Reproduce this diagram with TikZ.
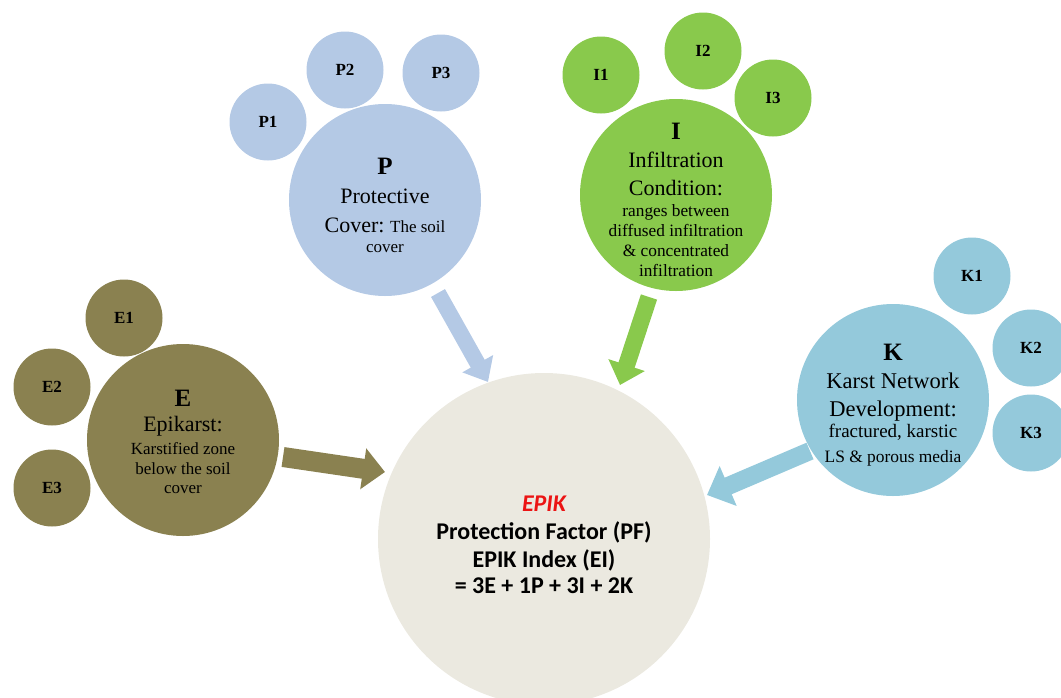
\documentclass[tikz,border=0pt]{standalone}
\usepackage{fontspec}
\setmainfont{Liberation Serif}
\newfontfamily\calib{Carlito}
\usetikzlibrary{arrows.meta}
\definecolor{pcol}{RGB}{180,201,229}
\definecolor{icol}{RGB}{137,201,76}
\definecolor{ecol}{RGB}{138,129,80}
\definecolor{kcol}{RGB}{148,201,219}
\definecolor{ccol}{RGB}{235,233,224}
\definecolor{epikred}{RGB}{235,20,20}
\begin{document}
\begin{tikzpicture}[x=1pt,y=-1pt,
  bubble/.style={circle, inner sep=0pt, minimum size=#1},
  small/.style={bubble=77pt, font=\fontsize{17}{20}\selectfont\bfseries},
  big/.style={bubble=192pt},
  btext/.style={inner sep=0pt, align=center},
  flow/.style={line width=#1},
]
\useasboundingbox (0,0) rectangle (1061,697);

% centre
\node[bubble=332pt, fill=ccol] (C) at (544,539) {};
\node[btext, font=\calib\bfseries\fontsize{24}{28}\selectfont] (Ct) at (544,545)
  {{\color{epikred}\itshape EPIK}\\ Protection Factor (PF)\\ EPIK Index (EI)\\[-2pt] = 3E + 1P + 3I + 2K};

% P group
\node[big, fill=pcol] (P) at (385,200) {};
\node[btext, font=\fontsize{17}{29}\selectfont] (Pt) at (385,205)
  {{\fontsize{25}{25}\selectfont\bfseries P}\\ {\fontsize{22}{22}\selectfont Protective}\\ {\fontsize{22}{22}\selectfont Cover:} The soil\\[-9pt] cover};
\node[small, fill=pcol] (P1) at (268,122) {P1};
\node[small, fill=pcol] (P2) at (345,70) {P2};
\node[small, fill=pcol] (P3) at (441,73) {P3};

% I group
\node[big, fill=icol] (I) at (676,195) {};
\node[btext, font=\fontsize{17.3}{28}\selectfont] (It) at (676,200)
  {{\fontsize{25}{25}\selectfont\bfseries I}\\ {\fontsize{22}{22}\selectfont Infiltration}\\ {\fontsize{22}{22}\selectfont Condition:}\\[-7pt] ranges between\\[-8pt] diffused infiltration\\[-8pt] \& concentrated\\[-8pt] infiltration};
\node[small, fill=icol] (I1) at (601,75) {I1};
\node[small, fill=icol] (I2) at (703,51) {I2};
\node[small, fill=icol] (I3) at (773,98) {I3};

% E group
\node[big, fill=ecol] (E) at (183,440) {};
\node[btext, font=\fontsize{17}{25}\selectfont] (Et) at (183,442)
  {{\fontsize{25}{25}\selectfont\bfseries E}\\ {\fontsize{22}{22}\selectfont Epikarst:}\\[-2pt] Karstified zone\\[-5pt] below the soil\\[-6pt] cover};
\node[small, fill=ecol] (E1) at (124,318) {E1};
\node[small, fill=ecol] (E2) at (52,387) {E2};
\node[small, fill=ecol] (E3) at (52,488) {E3};

% K group
\node[big, fill=kcol] (K) at (893,400) {};
\node[btext, font=\fontsize{17.4}{28}\selectfont] (Kt) at (893,405)
  {{\fontsize{25}{25}\selectfont\bfseries K}\\ {\fontsize{22.5}{22}\selectfont Karst Network}\\ {\fontsize{22.5}{22}\selectfont Development:}\\[-7pt] {\fontsize{19}{19}\selectfont fractured, karstic}\\[-3pt] LS \& porous media};
\node[small, fill=kcol] (K1) at (972,276) {K1};
\node[small, fill=kcol] (K2) at (1031,348) {K2};
\node[small, fill=kcol] (K3) at (1031,433) {K3};

% arrows
\coordinate (pa) at (438,293); \coordinate (pb) at (488,382);
\coordinate (ia) at (649,297); \coordinate (ib) at (620,385);
\coordinate (ea) at (283,457); \coordinate (eb) at (385,472);
\coordinate (ka) at (810,451); \coordinate (kb) at (707,495);
\draw[flow=16pt, pcol, -{Triangle[width=34pt,length=21pt]}] (pa) -- (pb);
\draw[flow=17pt, icol, -{Triangle[width=37pt,length=21pt]}] (ia) -- (ib);
\draw[flow=20pt, ecol, -{Triangle[width=40pt,length=22pt]}] (ea) -- (eb);
\draw[flow=18pt, kcol, -{Triangle[width=42pt,length=23pt]}] (ka) -- (kb);
\end{tikzpicture}
\end{document}
